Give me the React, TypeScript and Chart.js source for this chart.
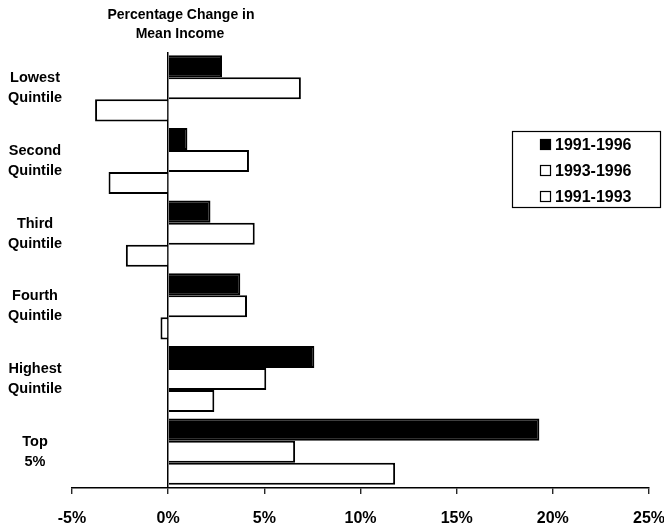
import React, { useEffect, useRef } from "react";
import { Chart, registerables } from "chart.js";

Chart.register(...registerables);

const categories: string[][] = [
  ["Lowest", "Quintile"],
  ["Second", "Quintile"],
  ["Third", "Quintile"],
  ["Fourth", "Quintile"],
  ["Highest", "Quintile"],
  ["Top", "5%"],
];
const series9196 = [2.8, 1.0, 2.2, 3.75, 7.6, 19.3];
const series9396 = [6.9, 4.2, 4.5, 4.1, 5.1, 6.6];
const series9193 = [-3.8, -3.1, -2.2, -0.4, 2.4, 11.8];
const seriesNames = ["1991-1996", "1993-1996", "1991-1993"];
const titleLines = ["Percentage Change in", "Mean Income"];
const xMin = -5;
const xMax = 25;
const xStep = 5;

const FONT = "'Liberation Sans', Arial, sans-serif";

const overlayPlugin = {
  id: "overlay",
  afterDraw(chart: any) {
    const ctx = chart.ctx as CanvasRenderingContext2D;
    ctx.save();
    // Title
    ctx.fillStyle = "#000";
    ctx.font = `bold 14px ${FONT}`;
    ctx.textAlign = "center";
    ctx.textBaseline = "middle";
    ctx.fillText(titleLines[0], 181, 15);
    ctx.fillText(titleLines[1], 180, 34);

    // Legend
    ctx.lineWidth = 1.2;
    ctx.strokeStyle = "#000";
    ctx.strokeRect(512.5, 131.5, 148, 76);
    const fills = ["#000", "#fff", "#fff"];
    ctx.font = `bold 16px ${FONT}`;
    ctx.textAlign = "left";
    seriesNames.forEach((name, i) => {
      const cy = 145 + i * 26;
      ctx.fillStyle = fills[i];
      ctx.fillRect(540, cy - 6, 11, 11);
      ctx.strokeRect(540.5, cy - 5.5, 10, 10);
      ctx.fillStyle = "#000";
      ctx.fillText(name, 555, cy + 1);
    });
    ctx.restore();
  },
};

export default function App() {
  const ref = useRef<HTMLCanvasElement | null>(null);
  useEffect(() => {
    if (!ref.current) return;
    const chart = new Chart(ref.current, {
      type: "bar",
      data: {
        labels: categories,
        datasets: [
          {
            label: seriesNames[0],
            data: series9196,
            backgroundColor: "#000",
            borderColor: "#000",
            borderWidth: 2,
          },
          {
            label: seriesNames[1],
            data: series9396,
            backgroundColor: "#fff",
            borderColor: "#000",
            borderWidth: 2,
          },
          {
            label: seriesNames[2],
            data: series9193,
            backgroundColor: "#fff",
            borderColor: "#000",
            borderWidth: 2,
          },
        ],
      },
      options: {
        indexAxis: "y",
        animation: false,
        responsive: true,
        maintainAspectRatio: false,
        layout: { padding: { top: 52, right: 15, bottom: 0, left: 0 } },
        datasets: {
          bar: { categoryPercentage: 0.91, barPercentage: 1.0 },
        },
        plugins: {
          legend: { display: false },
          title: { display: false },
          tooltip: { enabled: false },
        },
        scales: {
          x: {
            min: xMin,
            max: xMax,
            ticks: {
              stepSize: xStep,
              color: "#000",
              padding: 15,
              maxRotation: 0,
              font: { family: FONT, size: 16, weight: "bold" },
              callback: (v: any) => `${v}%`,
            },
            grid: {
              color: (c: any) => (c.tick && c.tick.value === 0 ? "#000" : "rgba(0,0,0,0)"),
              lineWidth: 1.5,
              tickColor: "#000",
              tickLength: 6,
              tickWidth: 1.2,
            },
            border: { display: true, color: "#000", width: 1.5 },
            afterFit: (scale: any) => {
              scale.height = 38;
              scale.paddingRight = 0;
              scale.paddingLeft = 0;
            },
          },
          y: {
            ticks: {
              color: "#000",
              crossAlign: "center",
              padding: 2,
              font: { family: FONT, size: 14.5, weight: "bold", lineHeight: 1.4 },
            },
            grid: { display: false },
            border: { display: false },
            afterFit: (scale: any) => {
              scale.width = 72;
            },
          },
        },
      },
      plugins: [overlayPlugin],
    } as any);
    return () => chart.destroy();
  }, []);
  return (
    <div style={{ position: "absolute", left: 0, top: 0, width: 664, height: 526, background: "#fff" }}>
      <canvas ref={ref} />
    </div>
  );
}
